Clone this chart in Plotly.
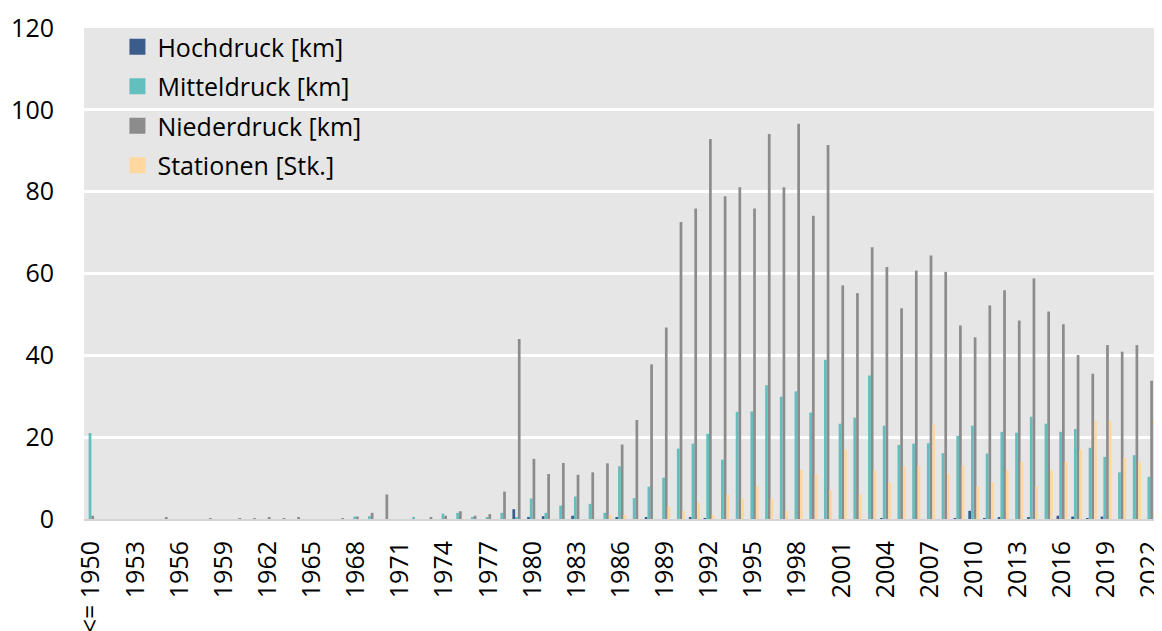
import plotly.graph_objects as go

categories = ["<= 1950"] + [str(y) for y in range(1951, 2023)]

hochdruck = [
    0, 0, 0, 0, 0, 0, 0, 0, 0, 0,            # 1950-1959
    0, 0, 0, 0, 0, 0, 0, 0, 0, 0,            # 1960-1969
    0, 0, 0, 0, 0, 0, 0, 0, 0, 2.4,          # 1970-1979
    0.5, 0.7, 0, 0.8, 0, 0, 0.3, 0, 0.3, 0,  # 1980-1989
    0, 0.3, 0.2, 0, 0, 0, 0, 0, 0, 0,        # 1990-1999
    0, 0, 0, 0, 0.2, 0, 0, 0, 0, 0.2,        # 2000-2009
    2.0, 0.2, 0.3, 0, 0.3, 0, 0.8, 0.6, 0.2, 0.6,  # 2010-2019
    0, 0, 0,                                 # 2020-2022
]

mitteldruck = [
    21.0, 0, 0, 0, 0, 0, 0, 0, 0, 0,
    0, 0, 0, 0, 0, 0, 0, 0, 0.6, 0.7,
    0, 0, 0.5, 0, 1.3, 1.5, 0.5, 0.3, 1.5, 0.3,
    5.0, 1.5, 3.3, 5.5, 3.7, 1.5, 12.9, 5.1, 7.9, 10.1,
    17.2, 18.4, 20.8, 14.5, 26.2, 26.3, 32.7, 29.9, 31.2, 26.0,
    38.9, 23.3, 24.8, 35.1, 22.8, 18.1, 18.4, 18.5, 16.1, 20.3,
    22.8, 16.0, 21.3, 21.1, 25.0, 23.3, 21.3, 22.0, 17.4, 15.2,
    11.4, 15.6, 10.3,
]

niederdruck = [
    0.8, 0, 0, 0, 0, 0.3, 0, 0, 0.1, 0,
    0.2, 0.1, 0.5, 0.1, 0.5, 0, 0, 0.2, 0.6, 1.5,
    6.0, 0, 0, 0.5, 0.8, 1.9, 0.8, 1.2, 6.7, 44.0,
    14.7, 11.0, 13.7, 10.8, 11.4, 13.6, 18.2, 24.2, 37.8, 46.8,
    72.6, 75.9, 92.9, 78.9, 81.1, 75.9, 94.1, 81.1, 96.6, 74.1,
    91.4, 57.1, 55.2, 66.4, 61.6, 51.5, 60.7, 64.4, 60.4, 47.3,
    44.4, 52.2, 55.9, 48.5, 58.8, 50.7, 47.6, 40.1, 35.5, 42.5,
    40.9, 42.5, 33.8,
]

stationen = [
    0, 0, 0, 0, 0, 0, 0, 0, 0, 0,
    0, 0, 0, 0, 0, 0, 0, 0, 0, 0,
    0, 0, 0, 0, 0, 0, 0, 0, 0, 0,
    0, 0, 0, 0, 0, 1, 1, 0, 0, 3,
    2, 4, 1, 6, 5, 8, 5, 2, 12, 11,
    7, 17, 6, 12, 9, 13, 13, 23, 11, 13,
    8, 9, 12, 14, 8, 12, 14, 17, 24, 24,
    15, 14, 24,
]

series_names = ["Hochdruck [km]", "Mitteldruck [km]", "Niederdruck [km]", "Stationen [Stk.]"]
series_values = [hochdruck, mitteldruck, niederdruck, stationen]
series_colors = ["#3b5d8c", "#63bebe", "#8c8c8c", "#ffd79f"]

tick_labels = categories[::3]

FONT = "Open Sans"
FS = 25

fig = go.Figure()
for name, vals, col in zip(series_names, series_values, series_colors):
    fig.add_trace(go.Bar(x=categories, y=vals, name=name, showlegend=False,
                         legendgroup=name,
                         marker=dict(color=col, line=dict(width=0))))
# legend swatches (square markers, no data drawn)
for name, col in zip(series_names, series_colors):
    fig.add_trace(go.Scatter(x=[None], y=[None], mode="markers", name=name,
                             legendgroup=name,
                             marker=dict(symbol="square", size=17, color=col)))

# page body has an 8px default margin; the figure is sized to fill the window
fig.update_layout(
    width=1154, height=623,
    margin=dict(l=76, r=0, t=20, b=112, autoexpand=False),
    paper_bgcolor="white",
    plot_bgcolor="#e6e6e6",
    barmode="group",
    bargap=0.26,
    bargroupgap=0,
    font=dict(family=FONT, size=FS, color="black"),
    legend=dict(x=0.031, y=1.008, xanchor="left", yanchor="top",
                bgcolor="rgba(0,0,0,0)", font=dict(size=FS),
                traceorder="grouped", tracegroupgap=4, itemwidth=30),
    showlegend=True,
)
fig.update_yaxes(range=[0, 120], dtick=20, gridcolor="white", gridwidth=3,
                 zeroline=False, showline=False, ticks="", automargin=False,
                 tickfont=dict(size=FS), ticklabelstandoff=29)
fig.update_xaxes(type="category", tickmode="array", tickvals=tick_labels,
                 ticktext=tick_labels, tickangle=-90, showgrid=False,
                 showline=True, linecolor="#d4d4d4", linewidth=2, ticks="",
                 automargin=False, tickfont=dict(size=FS), ticklabelstandoff=10,
                 range=[-0.5, 72.8])

fig.write_html("out.html")
